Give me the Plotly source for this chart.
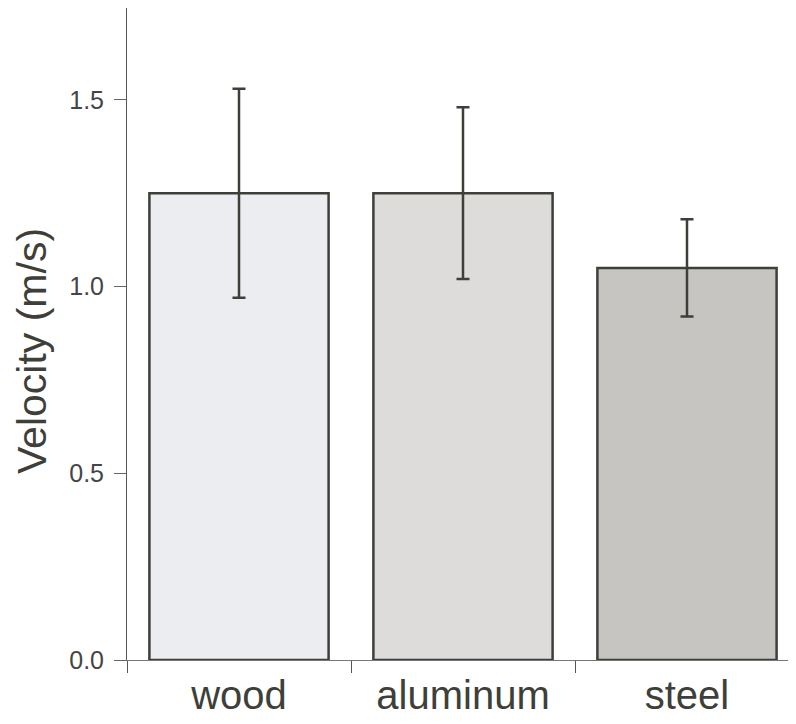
import plotly.graph_objects as go

categories = ["wood", "aluminum", "steel"]
velocity = [1.25, 1.25, 1.05]
error = [0.28, 0.23, 0.13]
bar_colors = ["#ECEDF0", "#DDDCDB", "#C6C5C1"]
y_ticks = [0.0, 0.5, 1.0, 1.5]
y_tick_labels = ["0.0", "0.5", "1.0", "1.5"]

edge = "#3E3F39"
text_col = "#3E3F39"

# page body adds an 8px offset; plot area on screen: x 127..799, y 8..660
L, R, T, B = 119, 5, 0, 72
W, H = 796, 724
plot_w = W - L - R
plot_h = H - T - B

fig = go.Figure(
    go.Bar(
        x=categories,
        y=velocity,
        width=0.8,
        marker=dict(color=bar_colors, line=dict(color=edge, width=2.5)),
        error_y=dict(type="data", array=error, visible=True,
                     color=edge, thickness=2.5, width=6.5),
    )
)

fig.update_layout(
    width=W, height=H,
    margin=dict(l=L, r=R, t=T, b=B, autoexpand=False),
    paper_bgcolor="white", plot_bgcolor="white",
    font=dict(family="Liberation Sans, Arial, sans-serif", color=text_col),
    showlegend=False,
)
fig.update_xaxes(
    range=[-0.5, 2.5],
    automargin=False,
    showline=True, linecolor="#777777", linewidth=1,
    ticks="outside", tickson="boundaries", ticklen=12, tickcolor="#555555", tickwidth=1,
    tickfont=dict(size=40, color=text_col),
    showgrid=False, zeroline=False,
)
fig.update_yaxes(
    range=[0, 1.746],
    automargin=False,
    tickvals=y_ticks, ticktext=y_tick_labels,
    showline=True, linecolor="#555555", linewidth=1,
    ticks="outside", ticklen=12, tickcolor="#666666", tickwidth=1,
    tickfont=dict(size=25, color="#454545"),
    ticklabelstandoff=5,
    showgrid=False, zeroline=False,
)
fig.add_annotation(
    text="Velocity (m/s)", textangle=-90,
    xref="paper", yref="paper",
    x=(24 - L) / plot_w, y=(plot_h - 343) / plot_h,
    xanchor="center", yanchor="middle", showarrow=False,
    font=dict(size=41, color=text_col),
)

fig.write_html("out.html")
